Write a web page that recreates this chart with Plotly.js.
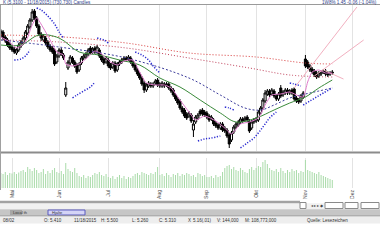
<!DOCTYPE html>
<html><head><meta charset="utf-8">
<script src="https://cdn.plot.ly/plotly-3.0.1.min.js"></script>
<style>html,body{margin:0;padding:0;background:#fff;}#chart{width:380px;height:240px;}</style>
</head><body><div id="chart"></div>
<script>
// ---- data (daily candles, first trading day 2015-04-24) ----
const openP = [6.05,6.13,6.03,5.97,5.89,5.83,5.79,5.71,5.77,5.85,
5.91,6.01,6.11,6.23,6.37,6.55,6.41,6.25,6.09,5.97,
6.01,5.93,5.85,5.81,5.77,5.53,5.65,5.77,5.67,4.87,
5.41,5.51,5.61,5.53,5.47,5.37,5.51,5.61,5.63,5.69,
5.81,5.73,5.81,5.73,5.77,5.65,5.59,5.53,5.57,5.47,
5.43,5.51,5.37,5.49,5.53,5.57,5.61,5.59,5.61,5.53,
5.47,5.37,5.29,5.21,5.11,4.97,5.05,5.09,5.05,5.11,
5.17,5.09,5.05,5.09,5.07,5.09,5.01,4.97,4.87,4.79,
4.75,4.61,4.57,4.49,4.45,4.47,4.17,4.33,4.41,4.55,
4.57,4.53,4.51,4.45,4.39,4.37,4.31,4.27,4.21,4.29,
4.21,4.17,4.07,3.97,4.13,4.23,4.27,4.33,4.39,4.37,
4.43,4.35,4.21,4.33,4.35,4.37,4.51,4.61,4.75,4.89,
4.95,4.89,4.95,4.85,4.79,5.01,4.87,4.91,4.97,4.91,
4.97,4.99,4.81,4.77,4.75,4.83,5.59,5.53,5.45,5.39,
5.35,5.31,5.25,5.29,5.33,5.35,5.31,5.29,5.33];
const closeP = [6.15,6.01,5.95,5.87,5.81,5.77,5.73,5.77,5.87,5.93,
6.01,6.13,6.25,6.37,6.53,6.41,6.25,6.09,6.01,6.05,
5.91,5.83,5.77,5.73,5.49,5.65,5.77,5.69,5.61,5.01,
5.53,5.63,5.53,5.45,5.33,5.49,5.61,5.65,5.69,5.77,
5.71,5.79,5.73,5.83,5.65,5.57,5.51,5.61,5.45,5.41,
5.51,5.35,5.49,5.53,5.57,5.61,5.57,5.63,5.53,5.45,
5.37,5.29,5.21,5.09,4.97,5.07,5.11,5.05,5.09,5.15,
5.07,5.05,5.11,5.05,5.09,5.01,4.95,4.87,4.79,4.71,
4.61,4.53,4.45,4.41,4.51,4.35,4.29,4.43,4.47,4.49,
4.49,4.47,4.43,4.37,4.43,4.29,4.25,4.21,4.29,4.17,
4.15,4.05,3.89,4.11,4.23,4.29,4.33,4.39,4.35,4.41,
4.37,4.15,4.33,4.37,4.39,4.53,4.61,4.77,4.91,4.95,
4.87,4.97,4.85,4.79,4.89,4.85,4.93,4.97,4.91,4.95,
4.91,4.79,4.75,4.73,4.85,4.91,5.45,5.43,5.37,5.33,
5.27,5.23,5.31,5.33,5.35,5.29,5.27,5.31,5.31];
const highP = [6.19,6.17,6.07,6.01,5.93,5.87,5.83,5.81,5.91,5.97,
6.05,6.17,6.29,6.41,6.59,6.59,6.45,6.29,6.13,6.09,
6.05,5.97,5.89,5.85,5.81,5.69,5.81,5.81,5.71,5.13,
5.57,5.67,5.65,5.57,5.51,5.53,5.65,5.69,5.73,5.81,
5.85,5.83,5.85,5.87,5.81,5.69,5.63,5.65,5.61,5.51,
5.55,5.55,5.53,5.57,5.61,5.65,5.65,5.67,5.65,5.57,
5.51,5.41,5.33,5.25,5.15,5.11,5.15,5.13,5.13,5.19,
5.21,5.13,5.15,5.13,5.13,5.13,5.05,5.01,4.91,4.83,
4.79,4.65,4.61,4.53,4.55,4.51,4.37,4.47,4.51,4.59,
4.61,4.57,4.55,4.49,4.47,4.41,4.35,4.31,4.33,4.33,
4.25,4.21,4.11,4.15,4.27,4.33,4.37,4.43,4.43,4.45,
4.47,4.39,4.37,4.41,4.43,4.57,4.65,4.81,4.97,4.99,
4.99,5.01,4.99,4.89,4.93,5.07,4.97,5.01,5.01,4.99,
5.01,5.03,4.85,4.81,4.89,4.95,5.67,5.57,5.49,5.43,
5.39,5.35,5.35,5.37,5.39,5.39,5.35,5.35,5.37];
const lowP = [6.01,5.97,5.91,5.83,5.77,5.73,5.69,5.67,5.73,5.81,
5.87,5.97,6.07,6.19,6.33,6.37,6.21,6.05,5.95,5.93,
5.87,5.79,5.73,5.69,5.45,5.49,5.61,5.65,5.57,4.83,
5.37,5.47,5.49,5.41,5.29,5.33,5.47,5.57,5.59,5.65,
5.67,5.69,5.69,5.69,5.61,5.53,5.47,5.49,5.41,5.37,
5.39,5.31,5.33,5.45,5.49,5.53,5.53,5.55,5.49,5.41,
5.33,5.25,5.17,5.05,4.91,4.93,5.01,5.01,5.01,5.07,
5.03,5.01,5.01,5.01,5.03,4.97,4.91,4.83,4.75,4.67,
4.57,4.49,4.41,4.37,4.41,4.31,4.03,4.29,4.37,4.45,
4.45,4.43,4.39,4.33,4.35,4.25,4.21,4.17,4.17,4.13,
4.11,4.01,3.81,3.93,4.09,4.19,4.23,4.29,4.31,4.33,
4.33,4.11,4.17,4.29,4.31,4.33,4.47,4.57,4.71,4.85,
4.83,4.85,4.81,4.75,4.75,4.81,4.83,4.87,4.87,4.87,
4.87,4.75,4.71,4.69,4.71,4.79,5.41,5.39,5.33,5.29,
5.23,5.19,5.21,5.25,5.29,5.25,5.23,5.25,5.27];
const volumeK = [150,140,160,130,150,145,160,140,155,
170,180,160,210,190,
170,200,180,150,160,190,140,170,150,180,200,160,150,170,140,
250,
190,170,160,200,150,
120,110,130,100,120,110,130,
150,140,160,
130,120,140,110,
100,120,90,110,130,100,120,90,110,100,120,
140,150,130,160,150,140,130,150,140,160,
210,
130,140,120,150,130,110,140,130,150,120,140,130,150,140,
120,130,110,150,140,120,130,110,
110,120,100,130,110,120,160,
200,220,230,190,210,180,170,200,180,
160,150,190,210,180,200,220,210,
260,280,240,
200,180,170,190,160,200,170,150,180,160,190,170,180,150,170,160,
280,
180,170,160,150,140,160,130,120,110,100,90,80];

// indicator lines, read at sample days (trading-day index -> value)
const maLongIdx = [0,28,56,84,114,136,148];
const maLongVal = [6.07,6.03,5.91,5.71,5.63,5.51,5.49];
const maMidIdx = [0,26,56,84,111,129,148];
const maMidVal = [5.97,5.93,5.81,5.61,5.41,5.27,5.23];
const maBlueIdx = [0,26,56,84,98,109,116,122,129,136,142,148];
const maBlueVal = [5.97,5.83,5.61,5.21,4.87,4.61,4.57,4.67,4.81,4.89,4.95,5.01];
const maGreenIdx = [0,9,17,26,35,44,53,62,71,80,89,98,105,114,122,129,136,142,148];
const maGreenVal = [5.87,5.87,6.07,6.01,5.73,5.67,5.57,5.47,5.21,5.03,4.77,4.51,4.33,4.41,4.57,4.71,4.83,5.01,5.17];
const maPinkIdx = [0,4,7,11,14,16,19,22,25,28,29,32,35,39,42,45,49,52,55,59,62,65,69,73,76,80,84,87,91,96,100,103,107,111,115,118,121,125,129,133,135,137,139,142,145,148];
const maPinkVal = [6.03,5.93,5.81,5.93,6.27,6.41,6.21,5.97,5.73,5.67,5.49,5.45,5.49,5.63,5.75,5.69,5.53,5.47,5.55,5.57,5.33,5.11,5.07,5.07,5.01,4.77,4.53,4.37,4.45,4.35,4.21,4.09,4.29,4.33,4.41,4.67,4.87,4.89,4.93,4.85,4.83,5.13,5.33,5.37,5.31,5.31];
const sarIdx = [6,9,11,13,null,16,18,21,24,26,28,null,32,34,37,40,42,null,43,46,48,null,60,63,66,68,71,null,88,91,94,98,null,100,102,104,null,107,110,113,116,118,120,123,null,129,131,134,null,135,138,141,144,148];
const sarVal = [5.57,5.59,5.65,5.77,null,6.61,6.57,6.45,6.29,6.13,6.01,null,4.81,4.87,4.95,5.03,5.13,null,6.01,5.97,5.91,null,5.73,5.67,5.57,5.45,5.31,null,3.95,3.99,4.01,4.05,null,4.63,4.61,4.57,null,3.81,3.91,4.01,4.17,4.29,4.41,4.53,null,5.11,5.09,5.05,null,4.67,4.75,4.83,4.91,5.01];
const trendIdx = [131,159,null,140,162,null,144,153];
const trendVal = [5.01,6.63,null,5.25,5.97,null,5.37,5.19];

const monthStarts = ['2015-05-01','2015-06-01','2015-07-01','2015-08-03','2015-09-01','2015-10-01','2015-11-02','2015-12-01'];
const monthLabels = ['Mai','Jun','Jul','Aug','Sep','Okt','Nov','Dez'];

// ---- trading calendar ----
const DAY = 86400000;
function tradingDays(n){
  const out=[]; let t=Date.UTC(2015,3,24);
  while(out.length<n){const d=new Date(t);const wd=d.getUTCDay();if(wd!==0&&wd!==6)out.push(d.toISOString().slice(0,10));t+=DAY;}
  return out;
}
const dates = tradingDays(175);
const candleDates = dates.slice(0, closeP.length);
function fmt(ms){const d=new Date(ms);return d.toISOString().slice(0,19).replace('T',' ');}
const xr = [fmt(Date.parse(dates[0]+'T00:00:00Z')-0.36*DAY), fmt(Date.parse(dates[169]+'T00:00:00Z')+0.3*DAY)];
const ix = a => a.map(i => i===null?null:dates[i]);

const traces = [
  {type:'bar', x:candleDates, y:volumeK, xaxis:'x', yaxis:'y2', marker:{color:'#a9dba9', line:{width:0}}, hoverinfo:'skip'},
  {type:'scatter', mode:'lines', x:ix(maLongIdx), y:maLongVal, line:{color:'#d83a3a', width:1, dash:'1px,2px', shape:'spline'}, hoverinfo:'skip'},
  {type:'scatter', mode:'lines', x:ix(maMidIdx), y:maMidVal, line:{color:'#c0405a', width:1, dash:'1px,2px', shape:'spline'}, hoverinfo:'skip'},
  {type:'scatter', mode:'lines', x:ix(maBlueIdx), y:maBlueVal, line:{color:'#3a3a9a', width:1, dash:'2px,2px', shape:'spline'}, hoverinfo:'skip'},
  {type:'scatter', mode:'lines', x:ix(maGreenIdx), y:maGreenVal, line:{color:'#3a8a3a', width:1, shape:'spline'}, hoverinfo:'skip'},
  {type:'scatter', mode:'lines', x:ix(trendIdx), y:trendVal, line:{color:'#f2b0c0', width:1}, hoverinfo:'skip'},
  {type:'scatter', mode:'lines', x:ix(sarIdx), y:sarVal, connectgaps:false, line:{color:'#2a2ad0', width:1.5, dash:'1.2px,1.6px', shape:'spline'}, hoverinfo:'skip'},
  {type:'scatter', mode:'lines', x:ix(maPinkIdx), y:maPinkVal, line:{color:'#e07ccc', width:1, shape:'spline', smoothing:0.6}, hoverinfo:'skip'},
  {type:'candlestick', x:candleDates, open:openP, high:highP, low:lowP, close:closeP,
   increasing:{line:{color:'#000', width:1}, fillcolor:'#ffffff'},
   decreasing:{line:{color:'#000', width:1}, fillcolor:'#000000'},
   whiskerwidth:0, hoverinfo:'skip'}
];

const py = p => 1 - p/240, px = p => p/380;
const shapes = [
  {type:'line', xref:'paper', yref:'paper', x0:0, x1:1, y0:py(4.5), y1:py(4.5), line:{color:'#9a9a9a', width:1}},
  {type:'line', xref:'paper', yref:'paper', x0:0, x1:1, y0:py(152.5), y1:py(152.5), line:{color:'#8c8c8c', width:2}},
  {type:'line', xref:'paper', yref:'paper', x0:px(0.5), x1:px(0.5), y0:py(4.5), y1:py(190), line:{color:'#a0a0a0', width:1}},
  {type:'rect', xref:'paper', yref:'paper', x0:0, x1:1, y0:py(209.3), y1:py(203.3), fillcolor:'#f1f1f1', line:{width:0}},
  {type:'rect', xref:'paper', yref:'paper', x0:0, x1:px(300), y0:py(203.3), y1:py(200.7), fillcolor:'#a2a2a2', line:{width:0}},
  {type:'rect', xref:'paper', yref:'paper', x0:0, x1:1, y0:py(215.5), y1:py(209.3), fillcolor:'#c6c6c6', line:{width:0}},
  {type:'rect', xref:'paper', yref:'paper', x0:px(10), x1:px(22), y0:py(215), y1:py(210), fillcolor:'#a6a6a6', line:{width:0}},
  {type:'rect', xref:'paper', yref:'paper', x0:px(48), x1:px(85), y0:py(215), y1:py(210), fillcolor:'#d4d4f6', line:{color:'#5a5ac0', width:1}},
  {type:'line', xref:'paper', yref:'paper', x0:0, x1:1, y0:py(216), y1:py(216), line:{color:'#7c7c7c', width:1}},
  {type:'rect', xref:'paper', yref:'paper', x0:0, x1:1, y0:py(223.5), y1:py(216.5), fillcolor:'#eeeeee', line:{width:0}},
  {type:'rect', xref:'paper', yref:'paper', x0:px(300), x1:px(306), y0:py(208.5), y1:py(202.5), fillcolor:'#ffffff', line:{color:'#8a8a8a', width:1}},
  {type:'rect', xref:'paper', yref:'paper', x0:px(325), x1:px(343), y0:py(208.5), y1:py(202.5), fillcolor:'#ffffff', line:{color:'#8a8a8a', width:1}},
  {type:'rect', xref:'paper', yref:'paper', x0:px(345), x1:px(358), y0:py(208.5), y1:py(202.5), fillcolor:'#ffffff', line:{color:'#8a8a8a', width:1}},
  {type:'rect', xref:'paper', yref:'paper', x0:px(361), x1:px(379), y0:py(208.5), y1:py(202.5), fillcolor:'#ffffff', line:{color:'#8a8a8a', width:1}}
];
const f = (s,c) => ({family:'Liberation Sans, Arial, sans-serif', size:s, color:c});
const ann = (x,y,t,anchor,font) => ({xref:'paper', yref:'paper', x:px(x), y:py(y), text:t, showarrow:false, xanchor:anchor, yanchor:'middle', font:font});
const annotations = [
  ann(1,2.6,'K (5.3100 - 11/18/2015) (730,730) Candles','left',f(4.6,'#30408c')),
  ann(379,2.6,'1W8% 1.45 -0.06 (-1.04%)','right',f(4.6,'#30408c')),
  ann(11,212.5,'Local th','left',f(4,'#333')),
  ann(50,212.5,'Hjalte','left',f(4,'#333')),
  ann(309,205.5,'◂ ▸ ▸ ◆','left',f(4,'#444')),
  ann(1,220,'08/02','left',f(4.5,'#333')),
  ann(42,220,'O: 5.410','left',f(4.5,'#333')),
  ann(72,220,'11/18/2015','left',f(4.5,'#333')),
  ann(99,220,'H: 5.500','left',f(4.5,'#333')),
  ann(130,220,'L: 5.260','left',f(4.5,'#333')),
  ann(157,220,'C: 5.310','left',f(4.5,'#333')),
  ann(186,220,'X','left',f(4.5,'#333')),
  ann(191,220,'5.16(.01)','left',f(4.5,'#333')),
  ann(215,220,'V: 144,000','left',f(4.5,'#333')),
  ann(243,220,'M: 108,773,000','left',f(4.5,'#333')),
  ann(305,220,'Quelle: Lesezeichen','left',f(4.5,'#333'))
];

const layout = {
  width:380, height:240, margin:{l:0,r:0,t:0,b:0},
  paper_bgcolor:'#ffffff', plot_bgcolor:'#ffffff', showlegend:false,
  boxgap:0.08, boxgroupgap:0, bargap:0.55,
  xaxis:{type:'date', range:xr, rangebreaks:[{bounds:['sat','mon']}], rangeslider:{visible:false},
    anchor:'y2', tickmode:'array', tickvals:monthStarts, ticktext:monthLabels, tickangle:-90,
    tickfont:f(5,'#444'), ticks:'', showgrid:true, gridcolor:'#e3e3e3', gridwidth:1,
    zeroline:false, showline:false, fixedrange:true},
  yaxis:{domain:[py(151), py(5)], range:[3.75,6.67], showticklabels:false, showgrid:false, zeroline:false, ticks:'', fixedrange:true},
  yaxis2:{domain:[py(188), py(158)], range:[0,300], showticklabels:false, showgrid:false, zeroline:false, ticks:'', fixedrange:true},
  shapes:shapes, annotations:annotations
};
Plotly.newPlot('chart', traces, layout, {staticPlot:true, displayModeBar:false});
</script></body></html>
